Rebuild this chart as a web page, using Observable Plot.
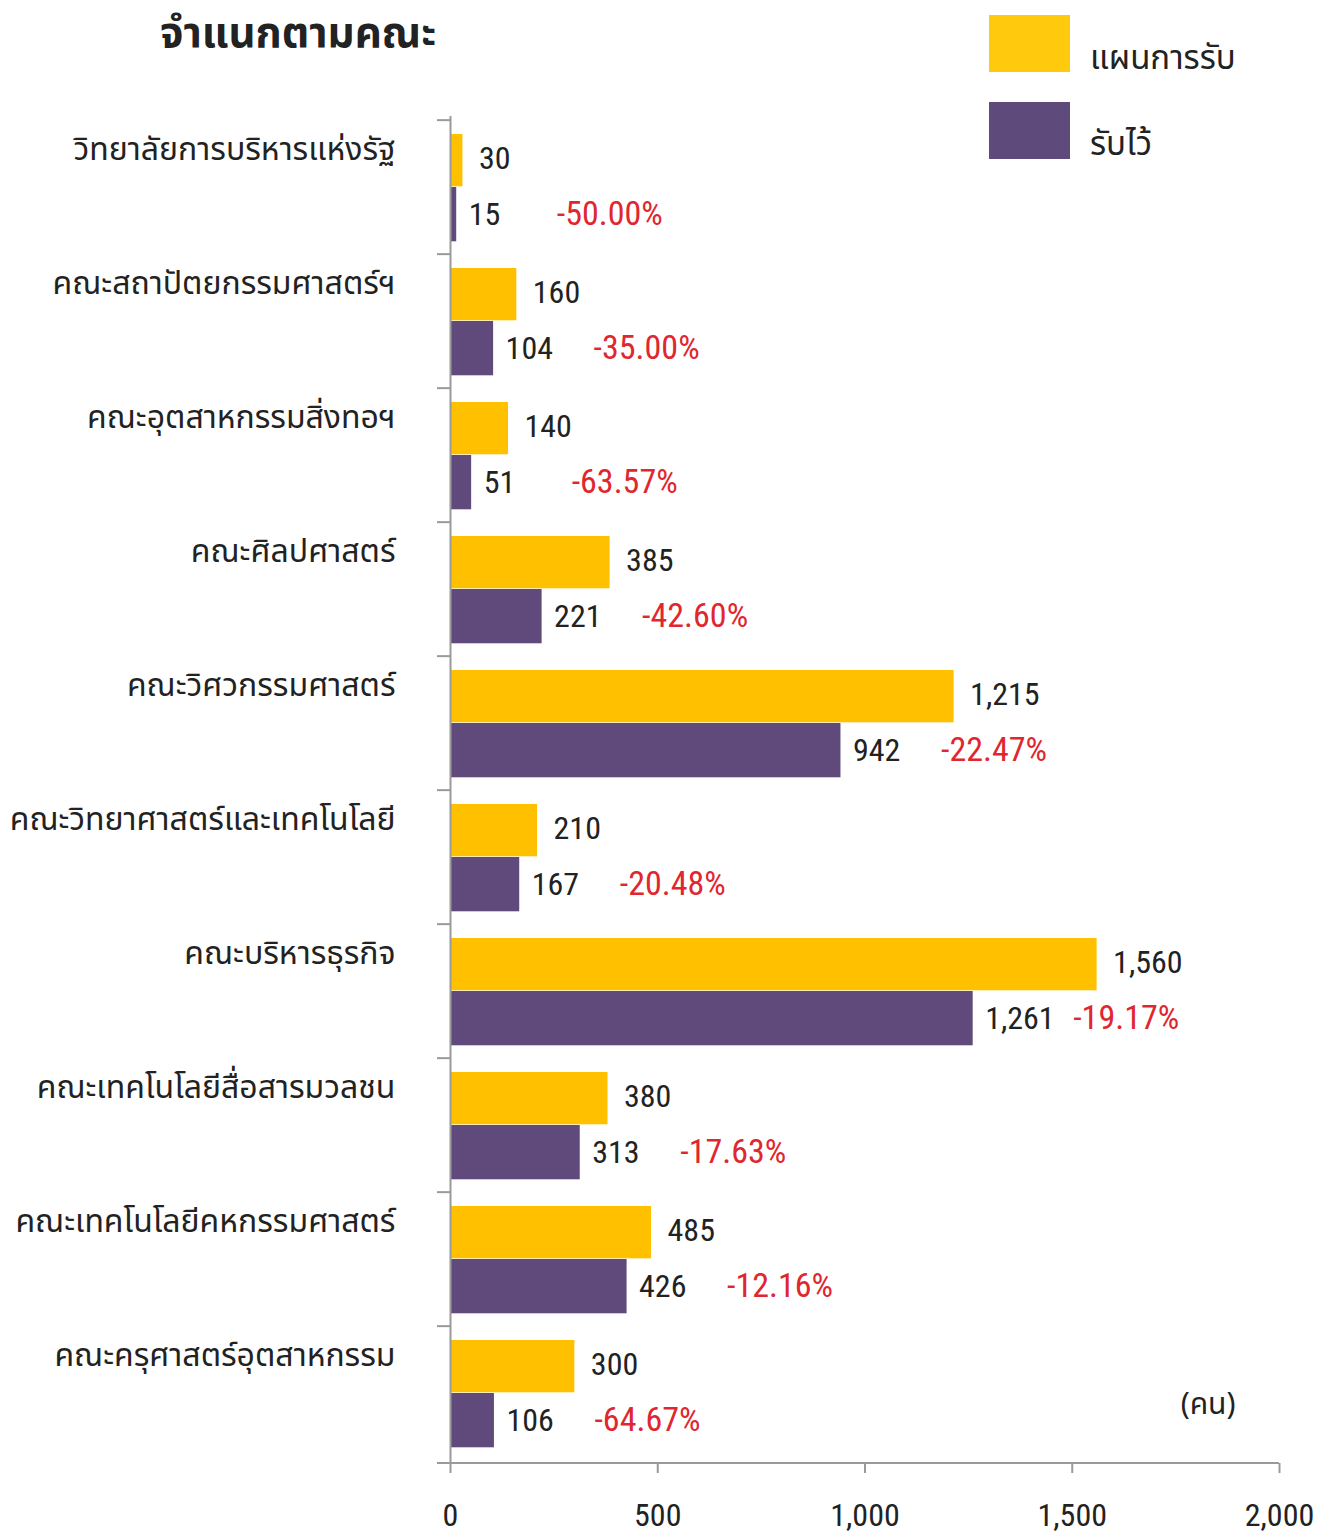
<!DOCTYPE html>
<html><head><meta charset="utf-8">
<script src="https://cdn.jsdelivr.net/npm/d3@7"></script>
<script src="https://cdn.jsdelivr.net/npm/@observablehq/plot@0.6"></script>
<style>
body{margin:0;background:#fff;}
#wrap{position:relative;width:1335px;height:1535px;font-family:"Noto Sans Thai","Noto Sans",sans-serif;color:#222;}
#title{position:absolute;left:160px;top:2px;font-size:42px;font-weight:bold;}
.sw{position:absolute;left:989px;width:81px;height:57px;}
.lg{position:absolute;left:1090px;font-size:33px;}
</style></head><body>
<div id="wrap">
<div id="chart"></div>
<div id="title">จำแนกตามคณะ</div>
<div class="sw" style="top:15px;background:#FFC90E"></div>
<div class="lg" style="top:34px">แผนการรับ</div>
<div class="sw" style="top:102px;background:#5F4B7B"></div>
<div class="lg" style="top:120px">รับไว้</div>
</div>
<script>
const categories = ["วิทยาลัยการบริหารแห่งรัฐ","คณะสถาปัตยกรรมศาสตร์ฯ","คณะอุตสาหกรรมสิ่งทอฯ","คณะศิลปศาสตร์","คณะวิศวกรรมศาสตร์","คณะวิทยาศาสตร์และเทคโนโลยี","คณะบริหารธุรกิจ","คณะเทคโนโลยีสื่อสารมวลชน","คณะเทคโนโลยีคหกรรมศาสตร์","คณะครุศาสตร์อุตสาหกรรม"];
const plan = [30,160,140,385,1215,210,1560,380,485,300];
const received = [15,104,51,221,942,167,1261,313,426,106];
const pct = ["-50.00%","-35.00%","-63.57%","-42.60%","-22.47%","-20.48%","-19.17%","-17.63%","-12.16%","-64.67%"];
const xTicks = [0,500,1000,1500,2000];
const unitLabel = ["(คน)"];

const W=1335,H=1535,mt=116,mb=72,ml=450,mr=56;
const step=(H-mt-mb)/categories.length;
const rows = categories.map((c,i)=>({cat:c, plan:plan[i], rec:received[i], pct:pct[i]}));
const fmt = d3.format(",");
const numFont = '"Liberation Sans Narrow","Roboto Condensed","Liberation Sans",sans-serif';
const axisColor = "#9a9a9a";

const chart = Plot.plot({
  width:W, height:H, marginTop:mt, marginBottom:mb, marginLeft:ml, marginRight:mr,
  x:{domain:[0,2000], ticks:xTicks, tickFormat:fmt},
  y:{domain:categories, padding:0},
  style:{fontFamily:'"Noto Sans Thai","Noto Sans",sans-serif', fontSize:"32px", color:"#222", background:"white"},
  marks:[
    Plot.barX(rows,{y:"cat", x:"plan", fill:"#FFC000", insetTop:14, insetBottom:step-67}),
    Plot.barX(rows,{y:"cat", x:"rec", fill:"#604A7B", insetTop:67, insetBottom:step-122}),
    Plot.text(rows,{y:"cat", x:"plan", text:d=>fmt(d.plan), dx:16, dy:-29, textAnchor:"start", fontFamily:numFont, fontSize:32, fill:"#222"}),
    Plot.text(rows,{y:"cat", x:"rec", text:d=>fmt(d.rec), dx:12, dy:27, textAnchor:"start", fontFamily:numFont, fontSize:32, fill:"#222"}),
    Plot.text(rows,{y:"cat", x:"rec", text:"pct", dx:100, dy:27, textAnchor:"start", fontFamily:numFont, fontSize:34, fill:"#E0262E"}),
    Plot.ruleX([0],{stroke:axisColor, strokeWidth:2}),
    Plot.axisY({tickSize:13, dy:-step/2, tickFormat:()=>"", stroke:axisColor, strokeWidth:2, label:null}),
    Plot.axisY({tickSize:0, tickPadding:55, dy:-38, label:null, fontSize:32}),
    Plot.axisX({ticks:xTicks, tickFormat:fmt, tickSize:10, tickPadding:30, stroke:axisColor, strokeWidth:2, label:null, fontFamily:numFont, fontSize:32}),
    (index, scales, values, dims) => {
      const g = d3.create("svg:line")
        .attr("x1", scales.x(0)-13).attr("x2", scales.x(2000))
        .attr("y1", dims.height-dims.marginBottom).attr("y2", dims.height-dims.marginBottom)
        .attr("stroke", axisColor).attr("stroke-width", 2);
      return g.node();
    },
    Plot.text(unitLabel,{text:d=>d, frameAnchor:"bottom-right", dx:-44, dy:-50, fontSize:30, fill:"#222"})
  ]
});
document.getElementById("chart").appendChild(chart);
</script>
</body></html>
